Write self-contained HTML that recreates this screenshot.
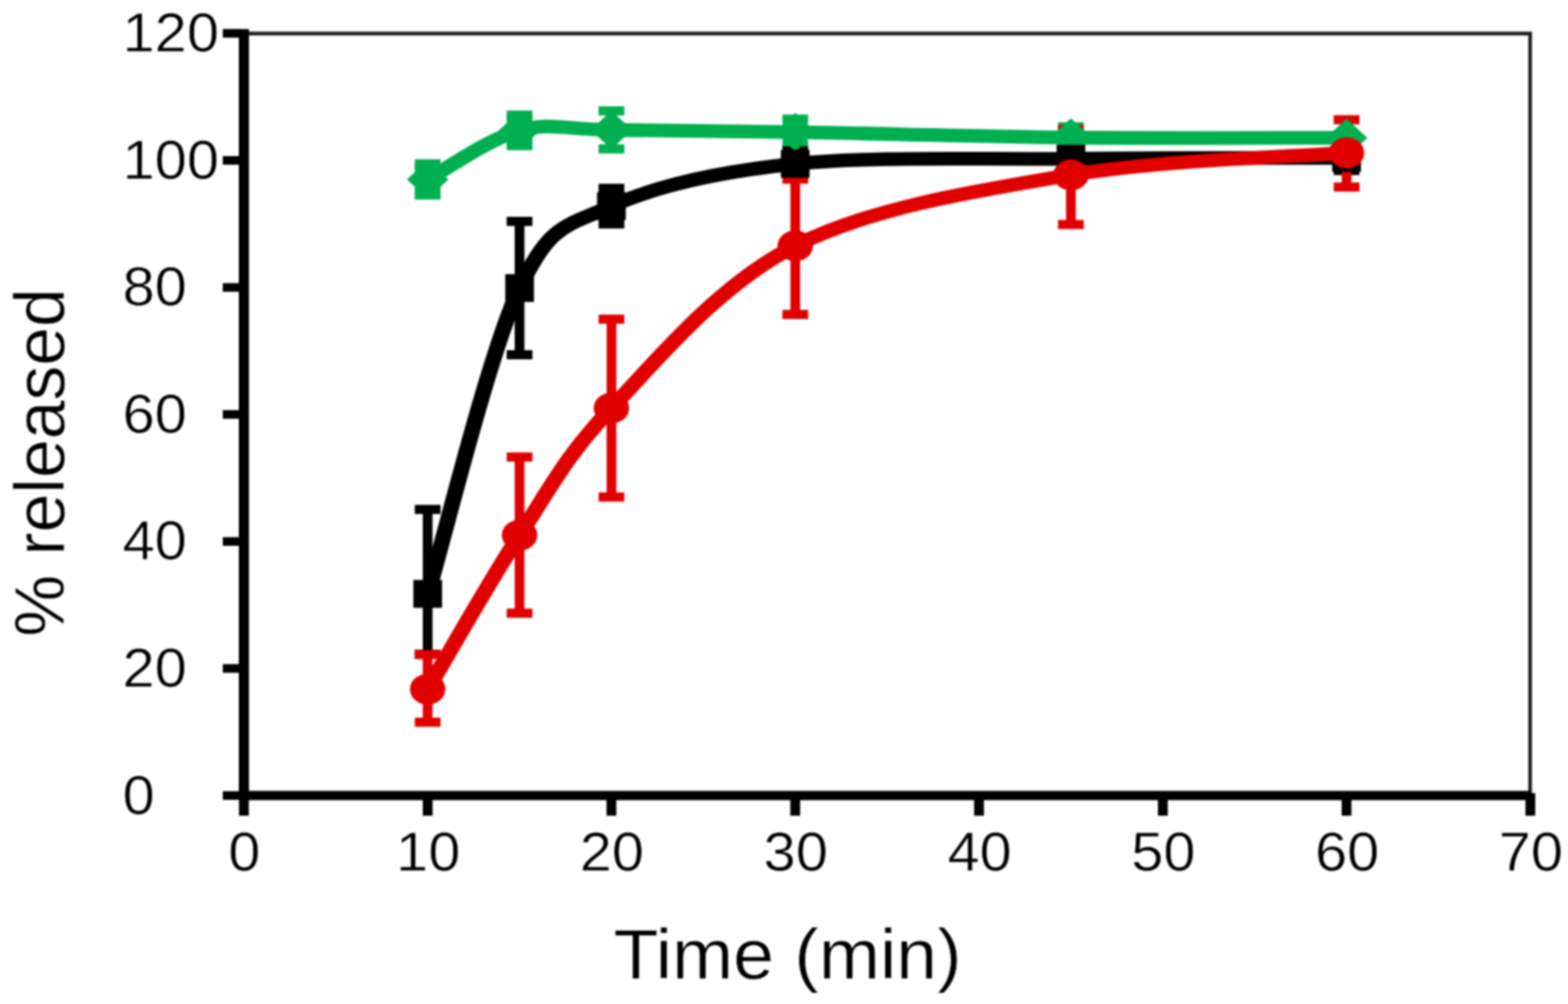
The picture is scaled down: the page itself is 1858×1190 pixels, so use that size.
<!DOCTYPE html>
<html lang="en">
<head>
<meta charset="utf-8">
<title>% released vs Time (min)</title>
<style>
html, body { margin: 0; padding: 0; background: #ffffff; }
body { width: 1858px; height: 1190px; overflow: hidden; }
svg { display: block; filter: blur(0.9px); }
</style>
</head>
<body>
<svg width="1858" height="1190" viewBox="0 0 1858 1190">
<rect x="0" y="0" width="1858" height="1190" fill="#ffffff"/>
<path id="frame" d="M289 39.8 H1813.1 V943" fill="none" stroke="#202020" stroke-width="4.4"/>
<g id="errorbars">
<g fill="#00b050">
<rect x="501" y="194.2" width="11.5" height="36.9"/>
<rect x="491.5" y="188.8" width="30.5" height="10.8"/>
<rect x="491.5" y="225.7" width="30.5" height="10.8"/>
<rect x="609.9" y="136.4" width="11.5" height="36.1"/>
<rect x="600.4" y="131" width="30.5" height="10.8"/>
<rect x="600.4" y="167.2" width="30.5" height="10.8"/>
<rect x="718.8" y="131.4" width="11.5" height="45.2"/>
<rect x="709.3" y="126" width="30.5" height="10.8"/>
<rect x="709.3" y="171.1" width="30.5" height="10.8"/>
<rect x="936.6" y="141.2" width="11.5" height="30.9"/>
<rect x="927.1" y="135.8" width="30.5" height="10.8"/>
<rect x="927.1" y="166.6" width="30.5" height="10.8"/>
<rect x="1263.2" y="150.3" width="11.5" height="25.4"/>
<rect x="1253.7" y="144.9" width="30.5" height="10.8"/>
<rect x="1253.7" y="170.3" width="30.5" height="10.8"/>
<rect x="1589.9" y="161.1" width="11.5" height="4.5"/>
<rect x="1580.4" y="155.7" width="30.5" height="10.8"/>
<rect x="1580.4" y="160.2" width="30.5" height="10.8"/>
</g>
<g fill="#000000">
<rect x="501" y="603.8" width="11.5" height="171.6"/>
<rect x="491.5" y="598.4" width="30.5" height="10.8"/>
<rect x="491.5" y="770" width="30.5" height="10.8"/>
<rect x="609.9" y="262.4" width="11.5" height="158.1"/>
<rect x="600.4" y="257" width="30.5" height="10.8"/>
<rect x="600.4" y="415.1" width="30.5" height="10.8"/>
<rect x="718.8" y="223.2" width="11.5" height="42.2"/>
<rect x="709.3" y="217.8" width="30.5" height="10.8"/>
<rect x="709.3" y="260" width="30.5" height="10.8"/>
<rect x="936.6" y="178.8" width="11.5" height="28.6"/>
<rect x="927.1" y="173.4" width="30.5" height="10.8"/>
<rect x="927.1" y="202" width="30.5" height="10.8"/>
<rect x="1263.2" y="176.8" width="11.5" height="22.6"/>
<rect x="1253.7" y="171.4" width="30.5" height="10.8"/>
<rect x="1253.7" y="194" width="30.5" height="10.8"/>
<rect x="1589.9" y="172" width="11.5" height="30.1"/>
<rect x="1580.4" y="166.6" width="30.5" height="10.8"/>
<rect x="1580.4" y="196.7" width="30.5" height="10.8"/>
</g>
<g fill="#e00000">
<rect x="501" y="775.8" width="11.5" height="80.2"/>
<rect x="491.5" y="770.4" width="30.5" height="10.8"/>
<rect x="491.5" y="850.6" width="30.5" height="10.8"/>
<rect x="609.9" y="541.7" width="11.5" height="185.2"/>
<rect x="600.4" y="536.3" width="30.5" height="10.8"/>
<rect x="600.4" y="721.4" width="30.5" height="10.8"/>
<rect x="718.8" y="378.3" width="11.5" height="210.8"/>
<rect x="709.3" y="372.9" width="30.5" height="10.8"/>
<rect x="709.3" y="583.7" width="30.5" height="10.8"/>
<rect x="936.6" y="212.3" width="11.5" height="160.3"/>
<rect x="927.1" y="206.9" width="30.5" height="10.8"/>
<rect x="927.1" y="367.3" width="30.5" height="10.8"/>
<rect x="1263.2" y="153.6" width="11.5" height="112.5"/>
<rect x="1253.7" y="148.2" width="30.5" height="10.8"/>
<rect x="1253.7" y="260.7" width="30.5" height="10.8"/>
<rect x="1589.9" y="141.9" width="11.5" height="79.8"/>
<rect x="1580.4" y="136.5" width="30.5" height="10.8"/>
<rect x="1580.4" y="216.3" width="30.5" height="10.8"/>
</g>
</g>
<g id="series-green">
<path transform="scale(1.15 1)" d="M440.7 212.7 C456.5 203 503.8 164.3 535.4 154.5 C566.9 144.7 582.7 153.6 630 154 C677.4 154.3 740.5 155.1 819.4 156.6 C898.3 158.1 1008.8 161.9 1103.4 163 C1198.1 164.1 1340.2 163.3 1387.5 163.4" fill="none" stroke="#00b050" stroke-width="16.3" stroke-linejoin="round" stroke-linecap="butt"/>
<g fill="#00b050">
<polygon points="482.2,212.7 506.8,189.9 531.4,212.7 506.8,235.5"/>
<rect x="491.5" y="194.2" width="30.5" height="36.9"/>
<polygon points="591.1,154.5 615.7,131.7 640.3,154.5 615.7,177.3"/>
<rect x="600.4" y="136.4" width="30.5" height="36.1"/>
<polygon points="699.9,154 724.5,131.2 749.1,154 724.5,176.8"/>
<polygon points="917.7,156.6 942.3,133.8 966.9,156.6 942.3,179.4"/>
<polygon points="1244.4,163 1269,140.2 1293.6,163 1269,185.8"/>
<polygon points="1571,163.4 1595.6,140.6 1620.2,163.4 1595.6,186.2"/>
</g>
</g>
<g id="series-black">
<path transform="scale(1.15 1)" d="M440.7 703.9 C456.5 643.5 503.8 418 535.4 341.4 C566.9 264.8 582.7 268.8 630 244.3 C677.4 219.8 740.5 203.6 819.4 194.2 C898.3 184.9 1008.8 189.3 1103.4 188.1 C1198.1 186.9 1340.2 187.3 1387.5 187.1" fill="none" stroke="#000000" stroke-width="16.3" stroke-linejoin="round" stroke-linecap="butt"/>
<g fill="#000000">
<rect x="489.8" y="687.4" width="34" height="33"/>
<rect x="598.7" y="324.9" width="34" height="33"/>
<rect x="707.5" y="227.8" width="34" height="33"/>
<rect x="925.3" y="177.7" width="34" height="33"/>
<rect x="1252" y="171.6" width="34" height="33"/>
<rect x="1578.6" y="170.6" width="34" height="33"/>
</g>
</g>
<g id="series-red">
<path transform="scale(1.15 1)" d="M440.7 816.8 C456.5 786.4 503.8 689.8 535.4 634.3 C566.9 578.7 582.7 540.8 630 483.7 C677.4 426.5 740.5 337.4 819.4 291.4 C898.3 245.3 1008.8 225.8 1103.4 207.4 C1198.1 189 1340.2 185.5 1387.5 181.1" fill="none" stroke="#e00000" stroke-width="16.3" stroke-linejoin="round" stroke-linecap="butt"/>
<g fill="#e00000">
<ellipse cx="506.8" cy="816.8" rx="21" ry="18.3"/>
<ellipse cx="615.7" cy="634.3" rx="21" ry="18.3"/>
<ellipse cx="724.5" cy="483.7" rx="21" ry="18.3"/>
<ellipse cx="942.3" cy="291.4" rx="21" ry="18.3"/>
<ellipse cx="1269" cy="207.4" rx="21" ry="18.3"/>
<ellipse cx="1595.6" cy="181.1" rx="21" ry="18.3"/>
</g>
</g>
<g id="axes" fill="#000">
<rect x="283" y="34.5" width="12" height="914"/>
<rect x="283" y="937.4" width="1530.6" height="11"/>
<rect x="264" y="937.8" width="20" height="10.2"/>
<rect x="264" y="787.2" width="20" height="10.2"/>
<rect x="264" y="636.7" width="20" height="10.2"/>
<rect x="264" y="486.1" width="20" height="10.2"/>
<rect x="264" y="335.6" width="20" height="10.2"/>
<rect x="264" y="185" width="20" height="10.2"/>
<rect x="264" y="34.4" width="20" height="10.2"/>
<rect x="283.2" y="940" width="11.6" height="26.8"/>
<rect x="501" y="940" width="11.6" height="26.8"/>
<rect x="718.7" y="940" width="11.6" height="26.8"/>
<rect x="936.5" y="940" width="11.6" height="26.8"/>
<rect x="1154.3" y="940" width="11.6" height="26.8"/>
<rect x="1372.1" y="940" width="11.6" height="26.8"/>
<rect x="1589.8" y="940" width="11.6" height="26.8"/>
<rect x="1807.6" y="940" width="11.6" height="26.8"/>
</g>
<g id="ylabels" font-family="'Liberation Sans', Arial, Helvetica, sans-serif" stroke="#ffffff" stroke-width="0.6" font-size="65.3" fill="#000">
<text transform="translate(145.3 964.5) scale(1.048 1)">0</text>
<text transform="translate(145.3 813.9) scale(1.048 1)">20</text>
<text transform="translate(145.3 663.4) scale(1.048 1)">40</text>
<text transform="translate(145.3 512.8) scale(1.048 1)">60</text>
<text transform="translate(145.3 362.3) scale(1.048 1)">80</text>
<text transform="translate(145.3 211.7) scale(1.048 1)">100</text>
<text transform="translate(145.3 61.1) scale(1.048 1)">120</text>
</g>
<g id="xlabels" font-family="'Liberation Sans', Arial, Helvetica, sans-serif" stroke="#ffffff" stroke-width="0.6" font-size="65.3" fill="#000" text-anchor="middle">
<text transform="translate(289.6 1032.3) scale(1.048 1)">0</text>
<text transform="translate(507.4 1032.3) scale(1.048 1)">10</text>
<text transform="translate(725.1 1032.3) scale(1.048 1)">20</text>
<text transform="translate(942.9 1032.3) scale(1.048 1)">30</text>
<text transform="translate(1160.7 1032.3) scale(1.048 1)">40</text>
<text transform="translate(1378.5 1032.3) scale(1.048 1)">50</text>
<text transform="translate(1596.2 1032.3) scale(1.048 1)">60</text>
<text transform="translate(1814 1032.3) scale(1.048 1)">70</text>
</g>
<g id="titles" font-family="'Liberation Sans', Arial, Helvetica, sans-serif" stroke="#ffffff" stroke-width="0.6" fill="#000" text-anchor="middle">
<text font-size="82.5" transform="translate(933.2 1159.6) scale(1.055 1)">Time (min)</text>
<text font-size="82.6" transform="translate(75.5 548.2) rotate(-90) scale(1 1.02)">% released</text>
</g>
</svg>
</body>
</html>
